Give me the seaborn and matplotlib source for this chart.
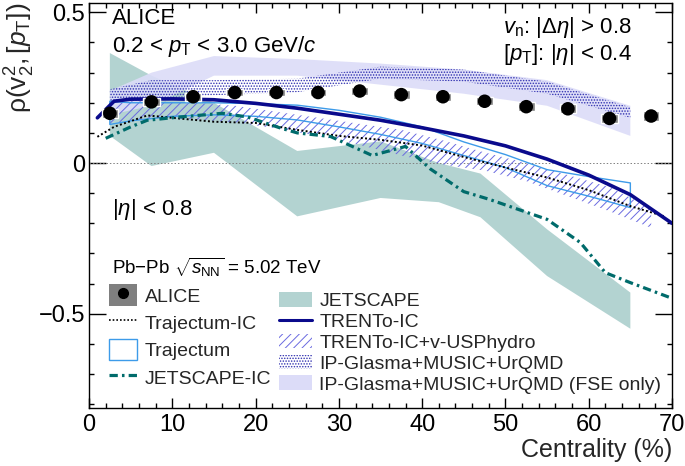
import matplotlib
matplotlib.use('Agg')
import seaborn as sns
from matplotlib import pyplot as plt
from matplotlib.patches import Patch
from matplotlib.lines import Line2D
from matplotlib.ticker import MultipleLocator, FixedLocator

# ALICE data
cent = [2.5, 7.5, 12.5, 17.5, 22.5, 27.5, 32.5, 37.5, 42.5, 47.5, 52.5, 57.5, 62.5, 67.5]
alice = [0.165, 0.203, 0.22, 0.234, 0.234, 0.234, 0.239, 0.227, 0.22, 0.205, 0.187, 0.180, 0.148, 0.156]
alice_sys = [0.014, 0.013, 0.013, 0.013, 0.013, 0.013, 0.014, 0.014, 0.014, 0.014, 0.014, 0.015, 0.015, 0.015]

# TRENTo-IC
trento_x = [1, 3, 5, 10, 15, 20, 25, 30, 35, 40, 45, 50, 55, 60, 65, 70]
trento_y = [0.15, 0.205, 0.212, 0.213, 0.21, 0.198, 0.182, 0.162, 0.142, 0.117, 0.09, 0.057, 0.013, -0.04, -0.105, -0.2]

# Trajectum-IC
trajic_x = [1, 3, 7, 10, 15, 20, 25, 30, 35, 40, 45, 50, 55, 60, 65, 69]
trajic_y = [0.087, 0.12, 0.158, 0.15, 0.137, 0.133, 0.11, 0.09, 0.077, 0.058, 0.02, -0.015, -0.048, -0.09, -0.143, -0.176]

# JETSCAPE-IC
jsic_x = [2, 5, 7, 11, 16, 19, 23, 25, 29, 34, 38, 41, 45, 48, 55, 59, 62, 65, 70]
jsic_y = [0.082, 0.12, 0.142, 0.153, 0.165, 0.153, 0.116, 0.1, 0.088, 0.025, 0.055, -0.02, -0.095, -0.12, -0.187, -0.264, -0.364, -0.397, -0.449]

# Trajectum band
traj_x = [2.5, 5, 10, 15, 20, 25, 30, 35, 40, 45, 50, 55, 60, 65]
traj_up = [0.205, 0.2, 0.2, 0.2, 0.197, 0.192, 0.175, 0.152, 0.12, 0.07, 0.028, -0.022, -0.045, -0.066]
traj_lo = [0.128, 0.14, 0.155, 0.16, 0.155, 0.143, 0.12, 0.095, 0.065, 0.025, -0.015, -0.075, -0.11, -0.148]

# TRENTo-IC + v-USPhydro band
hyd_x = [2.5, 7.5, 12.5, 17.5, 22.5, 27.5, 32.5, 37.5, 42.5, 47.5, 52.5, 57.5, 62.5, 67.5]
hyd_up = [0.205, 0.205, 0.2, 0.19, 0.17, 0.15, 0.13, 0.11, 0.075, 0.035, 0.0, -0.04, -0.08, -0.15]
hyd_lo = [0.13, 0.15, 0.145, 0.135, 0.115, 0.09, 0.06, 0.025, -0.005, -0.025, -0.06, -0.11, -0.16, -0.215]

# JETSCAPE band
jet_x = [2.5, 7.5, 15, 25, 35, 42, 47, 55, 65]
jet_up = [0.365, 0.29, 0.2, 0.04, 0.072, 0.0, -0.035, -0.22, -0.43]
jet_lo = [0.09, -0.01, 0.034, -0.177, -0.116, -0.13, -0.18, -0.375, -0.55]

# IP-Glasma+MUSIC+UrQMD
ipg_x = [2.5, 7.5, 15, 25, 35, 45, 55, 65]
ipg_up = [0.245, 0.275, 0.275, 0.28, 0.32, 0.31, 0.27, 0.185]
ipg_lo = [0.2, 0.21, 0.225, 0.235, 0.28, 0.27, 0.23, 0.15]

# IP-Glasma+MUSIC+UrQMD (FSE only)
fse_x = [2.5, 7.5, 15, 25, 35, 45, 55, 65]
fse_up = [0.24, 0.30, 0.355, 0.345, 0.33, 0.31, 0.275, 0.19]
fse_lo = [0.16, 0.19, 0.29, 0.29, 0.26, 0.23, 0.19, 0.09]

sns.set_theme(style='ticks')
plt.rcParams['font.family'] = ['Liberation Sans', 'DejaVu Sans']
plt.rcParams['mathtext.fontset'] = 'custom'
plt.rcParams['mathtext.rm'] = 'Liberation Sans'
plt.rcParams['mathtext.it'] = 'Liberation Sans:italic'
plt.rcParams['hatch.linewidth'] = 0.7

c_navy = '#0a0a8c'
c_lblue = '#3d9be9'
c_teal = '#006b6b'
c_jet = '#b3d3d1'
c_hyd = '#6a6ae0'
c_ipg = '#3030b0'
c_fse = '#dcdcf8'

fig = plt.figure(figsize=(6.85, 4.66), dpi=100)
ax = fig.add_axes([0.130, 0.1245, 0.851, 0.869])

ax.fill_between(jet_x, jet_lo, jet_up, facecolor=c_jet, edgecolor='none', zorder=1)
ax.fill_between(fse_x, fse_lo, fse_up, facecolor=c_fse, edgecolor='none', alpha=0.9, zorder=2)
ax.fill_between(ipg_x, ipg_lo, ipg_up, facecolor='none', edgecolor=c_ipg, hatch='......', linewidth=0, zorder=3)
ax.fill_between(hyd_x, hyd_lo, hyd_up, facecolor='none', edgecolor=c_hyd, hatch='////', linewidth=0, zorder=3)
ax.fill_between(traj_x, traj_lo, traj_up, facecolor='none', edgecolor=c_lblue, linewidth=1.0, zorder=4)

ax.axhline(0, color='gray', ls=(0, (1.5, 2)), lw=0.7, zorder=1.5)

sns.lineplot(x=trajic_x, y=trajic_y, ax=ax, color='black', lw=1.4, linestyle=(0, (1, 1.2)), zorder=5)
sns.lineplot(x=jsic_x, y=jsic_y, ax=ax, color=c_teal, lw=2.3, linestyle=(0, (2.6, 1.3, 0.8, 1.3)), zorder=5)
sns.lineplot(x=trento_x, y=trento_y, ax=ax, color=c_navy, lw=2.6, zorder=6)

sys_bottom = [a - s for a, s in zip(alice, alice_sys)]
sys_height = [2 * s for s in alice_sys]
ax.bar(cent, sys_height, bottom=sys_bottom, width=2.0, color='#808080', zorder=7)
sns.scatterplot(x=cent, y=alice, ax=ax, color='black', s=95, edgecolor='none', zorder=8)

ax.set_xlim(0, 70)
ax.set_ylim(-0.813, 0.531)
ax.xaxis.set_major_locator(MultipleLocator(10))
ax.xaxis.set_minor_locator(MultipleLocator(2))
ax.yaxis.set_major_locator(FixedLocator([-0.5, 0, 0.5]))
ax.yaxis.set_minor_locator(MultipleLocator(0.1))
ax.set_yticklabels(['\u22120.5', '0', '0.5'])
ax.tick_params(which='both', direction='in', top=True, right=True, labelsize=17, width=1, colors='black')
ax.tick_params(axis='x', which='major', length=7, pad=4)
ax.tick_params(axis='x', which='minor', length=3.3)
ax.tick_params(axis='y', which='major', length=12.5, pad=3)
ax.tick_params(axis='y', which='minor', length=3.8)
for sp in ax.spines.values():
    sp.set_linewidth(1)
    sp.set_color('black')

ax.set_xlabel('Centrality (%)', loc='right', fontsize=18, labelpad=2)
ax.set_ylabel(r'$\mathregular{\rho(v_2^2,[}p_{\rm T}\mathregular{])}$', loc='top', fontsize=19, labelpad=1)

tk = dict(transform=ax.transAxes, fontsize=16, color='black')
ax.text(0.039, 0.963, 'ALICE', va='center', **tk)
ax.text(0.039, 0.893, r'0.2 < $p_{\rm T}$ < 3.0 GeV/$c$', va='center', **tk)
ax.text(0.931, 0.94, r'$v_{\rm n}$: |$\Delta\eta$| > 0.8', ha='right', va='center', **tk)
ax.text(0.931, 0.872, r'[$p_{\rm T}$]: |$\eta$| < 0.4', ha='right', va='center', **tk)
ax.text(0.039, 0.489, r'|$\eta$| < 0.8', va='center', **tk)
ax.text(0.039, 0.346, r'Pb$-$Pb $\sqrt{s_{\rm NN}}$ = 5.02 TeV', va='center', fontsize=13.5,
        transform=ax.transAxes, color='black')

h_left = [
    (Patch(facecolor='#7f7f7f', edgecolor='none'),
     Line2D([], [], marker='o', color='black', ls='none', ms=7)),
    Line2D([], [], color='black', lw=1.2, linestyle=(0, (1, 1.2))),
    Patch(facecolor='white', edgecolor=c_lblue, lw=1.0),
    Line2D([], [], color=c_teal, lw=2.3, linestyle=(0, (2.6, 1.3, 0.8, 1.3))),
]
l_left = ['ALICE', 'Trajectum-IC', 'Trajectum', 'JETSCAPE-IC']
h_right = [
    Patch(facecolor=c_jet, edgecolor='none'),
    Line2D([], [], color=c_navy, lw=2.2),
    Patch(facecolor='none', edgecolor=c_hyd, hatch='////', lw=0),
    Patch(facecolor='none', edgecolor=c_ipg, hatch='......', lw=0),
    Patch(facecolor=c_fse, edgecolor='none'),
]
l_right = ['JETSCAPE', 'TRENTo-IC', 'TRENTo-IC+v-USPhydro', 'IP-Glasma+MUSIC+UrQMD',
           'IP-Glasma+MUSIC+UrQMD (FSE only)']

leg1 = ax.legend(h_left, l_left, loc='upper left', bbox_to_anchor=(0.034, 0.305), frameon=False,
                 fontsize=14, handlelength=1.45, handleheight=1.3, handletextpad=0.4,
                 labelspacing=0.32, borderpad=0, borderaxespad=0)
ax.add_artist(leg1)
ax.legend(h_right, l_right, loc='upper left', bbox_to_anchor=(0.325, 0.287), frameon=False,
          fontsize=14, handlelength=1.7, handleheight=0.8, handletextpad=0.4,
          labelspacing=0.14, borderpad=0, borderaxespad=0)

fig.savefig('out.png', dpi=100)
